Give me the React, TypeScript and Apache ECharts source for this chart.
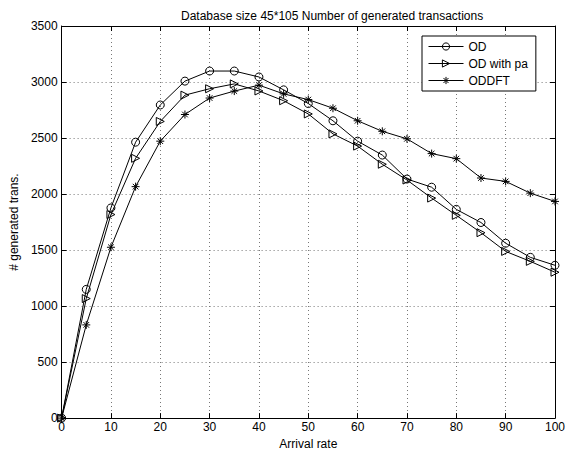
import React, { useEffect, useRef } from "react";
import * as echarts from "echarts";

const xValues = [0, 5, 10, 15, 20, 25, 30, 35, 40, 45, 50, 55, 60, 65, 70, 75, 80, 85, 90, 95, 100];
const od = [0, 1149, 1876, 2463, 2795, 3008, 3098, 3098, 3045, 2930, 2808, 2654, 2472, 2348, 2134, 2061, 1863, 1746, 1561, 1435, 1364];
const odWithPa = [0, 1067, 1817, 2319, 2648, 2883, 2940, 2983, 2920, 2833, 2715, 2537, 2428, 2266, 2125, 1964, 1810, 1655, 1488, 1399, 1302];
const oddft = [0, 832, 1525, 2066, 2472, 2710, 2857, 2919, 2972, 2894, 2843, 2766, 2654, 2560, 2493, 2361, 2316, 2143, 2113, 2008, 1934];
const seriesNames = ["OD", "OD with pa", "ODDFT"];

const FONT = "'Liberation Sans', Arial, Helvetica, sans-serif";
const asterisk = "path://M5,0L5,10M0,5L10,5M1.5,1.5L8.5,8.5M1.5,8.5L8.5,1.5";

export default function App() {
  const ref = useRef<HTMLDivElement>(null);
  useEffect(() => {
    if (!ref.current) return;
    const chart = echarts.init(ref.current, undefined, { renderer: "svg" });
    const pair = (ys: number[]) => xValues.map((x, i) => [x, ys[i]]);
    const axisCommon = {
      axisLine: { show: true, onZero: false, lineStyle: { color: "#000", width: 1 } },
      axisTick: { show: true, inside: true, length: 5, lineStyle: { color: "#000" } },
    };
    const mk = (name: string, data: number[], symbol: string, size: number, rotate = 0) => ({
      name,
      type: "line",
      data: pair(data),
      symbol,
      symbolSize: size,
      symbolRotate: rotate,
      showAllSymbol: true,
      lineStyle: { color: "#000", width: 1 },
      itemStyle: { color: "rgba(255,255,255,0)", borderColor: "#000", borderWidth: 1 },
      emphasis: { disabled: true },
    });
    chart.setOption({
      animation: false,
      backgroundColor: "#fff",
      textStyle: { fontFamily: FONT },
      title: {
        text: "Database size 45*105 Number of generated transactions",
        left: 176,
        top: 5,
        textStyle: { fontFamily: FONT, fontSize: 12, fontWeight: "normal", color: "#000" },
      },
      legend: {
        orient: "vertical",
        left: 422,
        top: 36,
        padding: [4, 8, 4, 6],
        itemGap: 4,
        itemWidth: 35,
        itemHeight: 9,
        backgroundColor: "#fff",
        borderColor: "#000",
        borderWidth: 1,
        data: seriesNames,
        itemStyle: { borderWidth: 1, borderColor: "#000", color: "rgba(255,255,255,0)" },
        lineStyle: { width: 1, color: "#000" },
        textStyle: { fontFamily: FONT, fontSize: 12, color: "#000", lineHeight: 13 },
      },
      grid: { left: 58, right: 9, top: 26, bottom: 33, containLabel: false },
      xAxis: [
        {
          type: "value",
          min: 0,
          max: 100,
          interval: 10,
          position: "bottom",
          ...axisCommon,
          axisLabel: { color: "#000", fontSize: 12, fontFamily: FONT, margin: 3 },
          splitLine: { show: true, lineStyle: { color: "#777", type: [1, 3], width: 1 } },
          name: "Arrival rate",
          nameLocation: "middle",
          nameGap: 18,
          nameTextStyle: { color: "#000", fontSize: 12, fontFamily: FONT },
        },
        {
          type: "value",
          min: 0,
          max: 100,
          interval: 10,
          position: "top",
          ...axisCommon,
          axisLabel: { show: false },
          splitLine: { show: false },
        },
      ],
      yAxis: [
        {
          type: "value",
          min: 0,
          max: 3500,
          interval: 500,
          position: "left",
          ...axisCommon,
          axisLabel: { color: "#000", fontSize: 12, fontFamily: FONT, margin: 4, formatter: (v: number) => String(v) },
          splitLine: { show: true, lineStyle: { color: "#777", type: [1, 3], width: 1 } },
          name: "# generated trans.",
          nameLocation: "middle",
          nameGap: 29,
          nameTextStyle: { color: "#000", fontSize: 12, fontFamily: FONT },
        },
        {
          type: "value",
          min: 0,
          max: 3500,
          interval: 500,
          position: "right",
          ...axisCommon,
          axisLabel: { show: false },
          splitLine: { show: false },
        },
      ],
      series: [
        mk(seriesNames[0], od, "circle", 8),
        mk(seriesNames[1], odWithPa, "triangle", 8, -90),
        mk(seriesNames[2], oddft, asterisk, 8),
      ],
    });
    return () => chart.dispose();
  }, []);
  return <div ref={ref} style={{ width: 568, height: 455, position: "absolute", left: 0, top: 0 }} />;
}
